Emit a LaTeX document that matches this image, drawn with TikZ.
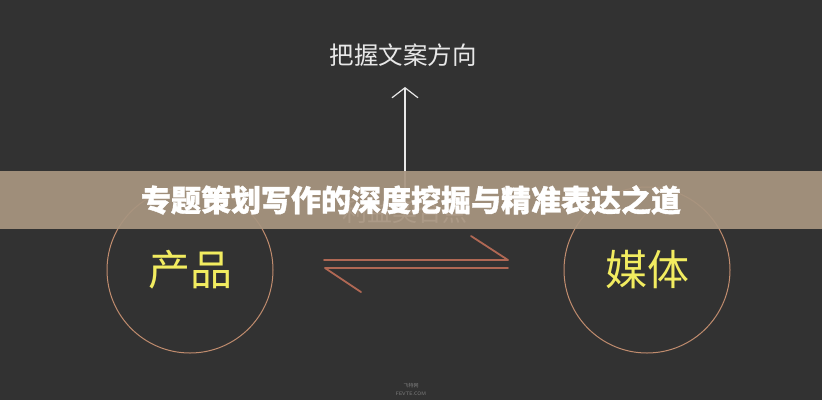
\documentclass[tikz,border=0pt]{standalone}
\usepackage{fontspec}
\newfontfamily\cjk{Noto Sans CJK SC}
\newfontfamily\cjkheavy[BoldFeatures={FakeBold=1.2}]{Noto Sans CJK SC}
\usetikzlibrary{arrows.meta}

\definecolor{bgdark}{RGB}{50,50,50}
\definecolor{bandtan}{RGB}{168,149,128}
\definecolor{ringcol}{RGB}{192,140,110}
\definecolor{flowcol}{RGB}{176,104,84}
\definecolor{wordyel}{RGB}{242,236,96}
\definecolor{lightgr}{RGB}{232,232,232}

\newcommand{\PicW}{822}
\newcommand{\PicH}{400}
\newcommand{\Rradius}{83}
\newcommand{\drawRing}[1]{
    \draw[ringcol, line width=1pt] (#1) circle (\Rradius);
}

\begin{document}
\begin{tikzpicture}[x=1pt,y=-1pt,
    flow/.style={flowcol, line width=1.8pt, line cap=round, line join=round},
    ringword/.style={font=\cjk\fontsize{42}{42}\selectfont, text=wordyel, inner sep=0pt}]
    \fill[bgdark] (0,0) rectangle (\PicW,\PicH);
    \useasboundingbox (0,0) rectangle (\PicW,\PicH);

    % label and arrow on top
    \node[font=\cjk\fontsize{24.5}{24.5}\selectfont, text=lightgr] (Aim) at (403,55) {把握文案方向};
    \node[font=\cjk\fontsize{25}{25}\selectfont, text=lightgr] (Gain) at (405,212) {利益契合点};
    \coordinate (ArrS) at (405,196);
    \coordinate (ArrE) at (405,87);
    \draw[lightgr, line width=1.2pt, -{Straight Barb[length=10pt, width=26pt, line width=1.2pt]}] (ArrS) -- (ArrE);

    % two rings
    \coordinate (Prod) at (190,270);
    \drawRing{Prod};
    \node[ringword] (ProdT) at (Prod) {产品};
    \coordinate (Media) at (647,270);
    \drawRing{Media};
    \node[ringword] (MediaT) at (Media) {媒体};

    % exchange arrows
    \coordinate (UpL) at (324,260);
    \coordinate (UpR) at (508,260);
    \coordinate (UpB) at (471,236);
    \coordinate (LoL) at (325,268);
    \coordinate (LoR) at (508,268);
    \coordinate (LoB) at (361,292);
    \draw[flow] (UpL) -- (UpR) -- (UpB);
    \draw[flow] (LoR) -- (LoL) -- (LoB);

    % band with title
    \fill[bandtan, opacity=0.93] (0,171) rectangle (\PicW,229);
    \node[font=\cjkheavy\bfseries\fontsize{30}{30}\selectfont, text=white] (Title) at (411,200) {专题策划写作的深度挖掘与精准表达之道};

    % watermark
    \node[font=\cjk\fontsize{5}{5}\selectfont, text=gray] (MarkA) at (411,386) {飞特网};
    \node[font=\sffamily\fontsize{5}{5}\selectfont, text=gray] (MarkB) at (411,394) {FEVTE.COM};
\end{tikzpicture}
\end{document}
